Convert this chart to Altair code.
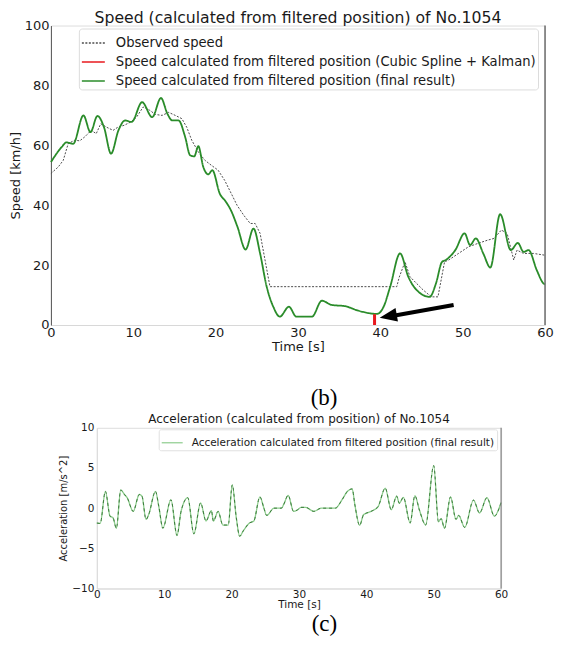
import altair as alt
import pandas as pd

# ---------------- data ----------------
speed_names = [
    "Observed speed",
    "Speed calculated from filtered position (Cubic Spline + Kalman)",
    "Speed calculated from filtered position (final result)",
]
speed_colors = ["#4d4d4d", "#e8191e", "#2a8c2a"]
speed_dashes = [[2, 1.5], [1, 0], [1, 0]]

obs_t = [0.0, 0.9, 1.5, 2.1, 2.9, 3.5, 4.1, 4.9, 5.5, 6.05, 6.8, 7.55, 8.1, 8.9, 9.7, 10.4,
         11.2, 12.0, 12.7, 13.5, 14.3, 15.1, 15.9, 16.5, 17.1, 17.9, 18.7, 19.5, 20.3, 21.1,
         21.9, 22.6, 23.4, 24.2, 24.8, 25.4, 26.0, 26.6, 42.0, 42.3, 43.0, 43.6, 44.4, 45.2,
         46.2, 47.0, 47.5, 47.8, 48.3, 49.5, 50.7, 51.8, 53.0, 53.8, 54.7, 55.4, 56.2, 56.6,
         57.4, 58.6, 60.0]
obs_v = [50.6, 52.8, 55.0, 60.6, 61.7, 61.5, 62.8, 65.0, 63.9, 67.2, 66.0, 65.0, 66.0, 66.7,
         67.8, 69.4, 72.8, 71.7, 70.3, 70.0, 71.0, 70.0, 68.9, 66.0, 61.7, 57.8, 55.0, 53.3,
         51.7, 48.3, 43.9, 40.0, 36.7, 33.9, 33.9, 30.6, 21.7, 12.8, 12.8, 16.0, 21.1, 16.1,
         13.9, 11.7, 9.4, 9.4, 16.7, 21.1, 21.7, 23.9, 26.1, 27.2, 28.3, 28.9, 31.7, 30.6,
         21.7, 25.0, 23.9, 23.9, 23.3]

fin_t = [0.0, 1.3, 1.9, 2.7, 3.95, 4.8, 5.65, 6.45, 7.3, 8.2, 9.0, 9.8, 11.07, 12.3, 13.36,
         14.15, 14.75, 15.5, 16.3, 16.9, 17.4, 17.9, 18.5, 19.1, 19.6, 20.5, 21.26, 21.86,
         22.65, 23.64, 24.6, 25.4, 26.2, 27.0, 27.8, 28.9, 29.8, 31.7, 32.9, 34.1, 35.7, 37.3,
         39.6, 40.4, 41.2, 42.4, 43.4, 44.4, 46.0, 46.76, 47.5, 47.95, 49.1, 50.24, 50.9,
         51.6, 52.5, 53.36, 54.55, 55.85, 56.7, 57.4, 58.0, 59.0, 59.8, 60.0]
fin_v = [54.4, 59.4, 61.0, 60.5, 70.0, 64.4, 69.8, 66.0, 57.2, 65.0, 68.3, 67.8, 74.4, 69.4,
         75.8, 70.5, 68.3, 68.3, 62.8, 56.7, 56.3, 59.7, 52.8, 50.3, 51.7, 43.9, 41.1, 38.3,
         32.8, 25.2, 32.2, 23.9, 12.8, 6.1, 2.8, 6.1, 2.8, 2.8, 8.1, 6.7, 6.3, 4.8, 3.7, 6.1,
         12.8, 23.9, 16.1, 11.7, 9.4, 13.9, 21.1, 21.7, 25.0, 30.6, 26.7, 28.9, 23.9, 19.2,
         37.0, 25.0, 27.4, 24.4, 25.0, 18.3, 13.9, 13.5]

ks_t = [39.3, 39.3]
ks_v = [0.0, 3.6]

arrow_t = [48.9, 41.6]
arrow_v = [6.7, 3.1]
arrowhead_t = [40.96]
arrowhead_v = [2.9]

acc_name = "Acceleration calculated from filtered position (final result)"
acc_t = [0.0, 0.5, 1.27, 1.96, 2.4, 2.9, 3.55, 4.1, 4.5, 5.4, 6.3, 6.7, 7.3, 7.7, 8.7, 9.2,
         9.8, 11.0, 11.9, 12.5, 13.5, 14.4, 15.4, 16.2, 17.0, 17.3, 18.0, 18.7, 19.5, 20.1,
         20.7, 21.2, 21.75, 22.65, 23.3, 24.2, 24.8, 25.2, 26.3, 27.4, 27.7, 28.4, 29.2, 29.8,
         30.3, 31.0, 32.2, 33.3, 35.4, 36.4, 37.2, 37.9, 38.3, 39.0, 39.6, 40.7, 41.75, 42.8,
         43.7, 44.5, 44.9, 45.5, 46.5, 47.2, 47.9, 48.8, 50.0, 50.7, 51.1, 51.6, 52.5, 53.3,
         53.7, 54.6, 55.9, 56.8, 57.9, 59.0, 60.0]
acc_a = [-1.85, -1.9, 2.1, -1.0, -1.2, -2.5, 2.26, 1.7, 1.3, -0.4, 1.7, 1.5, -1.4, -0.8, 2.1,
         0.2, -2.5, 1.05, -3.4, -0.4, 1.3, -3.2, 0.65, -1.6, -0.3, -1.6, -0.4, -2.1, -2.1,
         2.9, -1.2, -3.5, -2.8, -1.85, -1.6, 1.4, 0.0, -0.9, 0.0, 0.0, 0.4, 1.6, -0.4, -0.2,
         0.1, 0.1, -0.4, 0.0, 0.0, 1.05, 2.1, 2.4, 0.4, -2.15, -0.8, -0.4, 0.2, 2.5, -0.2,
         1.5, 0.6, 1.35, -1.85, 1.55, -0.3, -2.1, 5.3, -1.7, -1.3, -2.5, 1.4, -1.4, -0.9,
         -2.4, 1.0, -0.6, 1.3, -1.0, 0.7]

speed_ticks = [0, 20, 40, 60, 80, 100]
acc_ticks = [-10, -5, 0, 5, 10]
time_ticks = [0, 10, 20, 30, 40, 50, 60]

FONT = "DejaVu Sans"
TXT = "#1a1a1a"

# ---------------- tables ----------------
obs_df = pd.DataFrame({"t": obs_t, "v": obs_v, "series": speed_names[0]})
ks_df = pd.DataFrame({"t": ks_t, "v": ks_v, "series": speed_names[1], "o": [0, 1]})
fin_df = pd.DataFrame({"t": fin_t, "v": fin_v, "series": speed_names[2]})
arrow_df = pd.DataFrame({"t": arrow_t, "v": arrow_v})
head_df = pd.DataFrame({"t": arrowhead_t, "v": arrowhead_v})
edge_df = pd.DataFrame({"t": [time_ticks[-1]]})
acc_df = pd.DataFrame({"t": acc_t, "a": acc_a, "series": acc_name})

# ---------------- speed panel ----------------
x_top = alt.X("t:Q", scale=alt.Scale(domain=[0, 60], nice=False, zero=False),
              axis=alt.Axis(values=time_ticks, format="d", title="Time [s]", ticks=False,
                            labelPadding=2, labelFontSize=13, titleFontSize=13, titlePadding=1,
                            titleFontWeight="normal", domainColor="#d8d8d8", labelFlush=False,
                            grid=False, labelColor=TXT, titleColor=TXT, labelFont=FONT,
                            titleFont=FONT))
y_top = alt.Y("v:Q", scale=alt.Scale(domain=[0, 100], nice=False),
              axis=alt.Axis(values=speed_ticks, format="d", title="Speed [km/h]", ticks=False,
                            labelPadding=2, labelFontSize=13, titleFontSize=13, titlePadding=2,
                            titleFontWeight="normal", domainColor="#555555", grid=False,
                            labelColor=TXT, titleColor=TXT, labelFont=FONT, titleFont=FONT))

speed_legend = alt.Legend(title=None, orient="none", legendX=28, legendY=3, direction="vertical",
                          symbolType="stroke", symbolSize=529, symbolStrokeWidth=1.5,
                          labelFontSize=13.2, labelFont=FONT, labelColor=TXT, labelOffset=10,
                          labelLimit=700, padding=2, rowPadding=-3.7, fillColor="white",
                          strokeColor="#dcdcdc", cornerRadius=3)
color_top = alt.Color("series:N", scale=alt.Scale(domain=speed_names, range=speed_colors),
                      legend=speed_legend)
dash_top = alt.StrokeDash("series:N", scale=alt.Scale(domain=speed_names, range=speed_dashes),
                          legend=speed_legend)

obs_layer = alt.Chart(obs_df).mark_line(strokeWidth=1).encode(
    x=x_top, y=y_top, color=color_top, strokeDash=dash_top)
fin_layer = alt.Chart(fin_df).mark_line(strokeWidth=1.8, interpolate="monotone").encode(
    x=x_top, y=y_top, color=color_top, strokeDash=dash_top)
ks_layer = alt.Chart(ks_df).mark_line(strokeWidth=3).encode(
    x=x_top, y=y_top, color=color_top, strokeDash=dash_top, order=alt.Order("o:Q"))
edge_top = alt.Chart(edge_df).mark_rule(color="#6e6e6e", strokeWidth=1.5).encode(x=alt.X("t:Q"))
shaft = alt.Chart(arrow_df).mark_line(color="black", strokeWidth=4).encode(x="t:Q", y="v:Q")
head = alt.Chart(head_df).mark_point(shape="M-1,0L1,-0.8L1,0.8Z", size=300, filled=True,
                                     color="black", opacity=1, angle=350).encode(x="t:Q", y="v:Q")

top_chart = alt.layer(obs_layer, fin_layer, ks_layer, edge_top, shaft, head).properties(
    width=495, height=300,
    title=alt.Title("Speed (calculated from filtered position) of No.1054", fontSize=15.7,
                    font=FONT, fontWeight="normal", color=TXT, offset=-7))

# ---------------- acceleration panel ----------------
x_bot = alt.X("t:Q", scale=alt.Scale(domain=[0, 60], nice=False, zero=False),
              axis=alt.Axis(values=time_ticks, format="d", title="Time [s]", ticks=False,
                            labelPadding=1, labelFontSize=10.5, titleFontSize=10.5, titlePadding=0,
                            titleFontWeight="normal", domainColor="#dcdcdc", labelFlush=False,
                            grid=False, labelColor=TXT, titleColor=TXT, labelFont=FONT,
                            titleFont=FONT))
y_bot = alt.Y("a:Q", scale=alt.Scale(domain=[-10, 10], nice=False),
              axis=alt.Axis(values=acc_ticks, format="d", title="Acceleration [m/s^2]",
                            ticks=False, labelPadding=3, labelFontSize=10.5, titleFontSize=10,
                            titlePadding=3, titleFontWeight="normal", domainColor="#dcdcdc",
                            grid=False, labelColor=TXT, titleColor=TXT, labelFont=FONT,
                            titleFont=FONT))
acc_legend = alt.Legend(title=None, orient="none", legendX=62, legendY=1.5, symbolType="stroke",
                        symbolSize=441, symbolStrokeWidth=1.2, labelFontSize=10.5, labelFont=FONT,
                        labelColor=TXT, labelOffset=8, labelLimit=700, padding=2,
                        fillColor="white", strokeColor="#e0e0e0", cornerRadius=2)
acc_solid = alt.Chart(acc_df).mark_line(strokeWidth=1.3, interpolate="monotone").encode(
    x=x_bot, y=y_bot,
    color=alt.Color("series:N", scale=alt.Scale(domain=[acc_name], range=["#8ccc8c"]),
                    legend=acc_legend))
acc_dash = alt.Chart(acc_df).mark_line(strokeWidth=1, interpolate="monotone", strokeDash=[3, 3],
                                       color="#3b7a3b").encode(x=x_bot, y=y_bot)
edge_bot = alt.Chart(edge_df).mark_rule(color="#8a8a8a", strokeWidth=1.3).encode(x=alt.X("t:Q"))

bottom_chart = alt.layer(acc_solid, acc_dash, edge_bot).properties(
    width=405, height=161,
    title=alt.Title("Acceleration (calculated from position) of No.1054", fontSize=12,
                    font=FONT, fontWeight="normal", color=TXT, offset=-3))

spacer = alt.Chart(pd.DataFrame({"s": [0]})).mark_point(opacity=0).encode(
    x=alt.X("s:Q", axis=None), y=alt.Y("s:Q", axis=None)).properties(
    width=7, height=10, view=alt.ViewBackground(strokeOpacity=0))

cap = dict(orient="bottom", anchor="start", align="center", font="Liberation Serif",
           fontSize=23, fontWeight="normal", color="black")

res = dict(x="independent", y="independent", color="independent", strokeDash="independent")

top_row = alt.hconcat(top_chart, spacing=0,
                      title=alt.Title("(b)", offset=33, dx=316, **cap)).resolve_scale(**res)
bottom_row = alt.hconcat(spacer, bottom_chart, spacing=0,
                         title=alt.Title("(c)", offset=2, dx=274, **cap)).resolve_scale(**res)

chart = alt.vconcat(top_row, bottom_row, spacing=1).resolve_scale(**res).properties(
    padding={"left": 0, "top": 0, "right": 0, "bottom": 0},
    background="white",
).configure_view(stroke="#e6e6e6").configure(font=FONT)

chart.save("out.html", embed_options={"renderer": "svg", "actions": False})
